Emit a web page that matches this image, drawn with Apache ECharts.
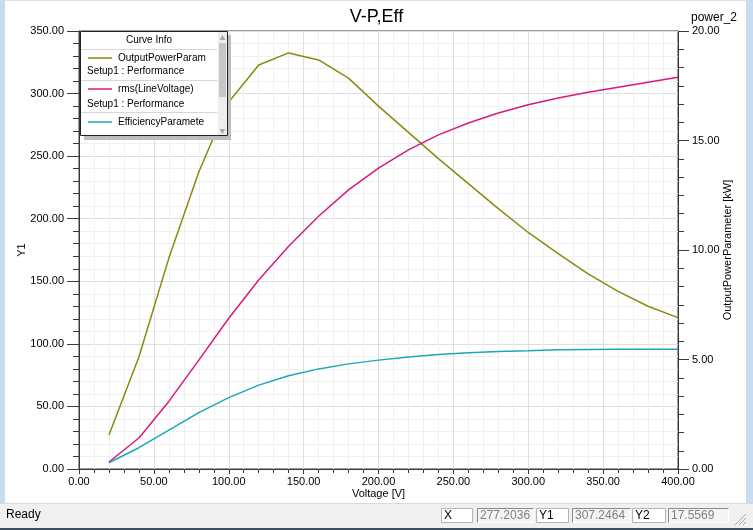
<!DOCTYPE html>
<html>
<head>
<meta charset="utf-8">
<script src="https://cdn.jsdelivr.net/npm/echarts@6/dist/echarts.min.js"></script>
<style>
html,body{margin:0;padding:0;background:#fff;}
#c{width:753px;height:530px;}
</style>
</head>
<body>
<div id="c"></div>
<script>
// ---- data ----
const voltage = [20,40,60,80,100,120,140,160,180,200,220,240,260,280,300,320,340,360,380,400];
// OutputPowerParameter [kW] (right axis)
const outputPower = [1.55,5.11,9.63,13.56,16.76,18.45,19.0,18.68,17.85,16.57,15.37,14.17,13.03,11.89,10.8,9.83,8.91,8.11,7.43,6.91];
// rms(LineVoltage) (left axis)
const rmsLineVoltage = [5.6,24.8,54,87,120.5,151,178,202,223,240.5,255,267,276.5,284.5,291,296.5,301,305,309,313];
// EfficiencyParameter (left axis)
const efficiency = [5,17,31,45,57,67,74.5,80,84,87,89.5,91.5,92.8,93.8,94.5,95.3,95.5,95.6,95.6,95.6];

const xTicks = {min:0, max:400, interval:50};
const y1Ticks = {min:0, max:350, interval:50};
const y2Ticks = {min:0, max:20, interval:5};

const seriesNames = ['OutputPowerParam','rms(LineVoltage)','EfficiencyParamete'];
const colors = ['#8a8a0c','#d61a7f','#19a9b6'];
const statusFields = [['X','277.2036'],['Y1','307.2464'],['Y2','17.5569']];

const pairs = (ys) => voltage.map((v,i)=>[v, ys[i]]);
const FONT = "'Liberation Sans', Arial, sans-serif";
const fmt = v => v.toFixed(2);
const axisCol = '#3a3a3a';

const chart = echarts.init(document.getElementById('c'), null, {renderer:'canvas'});

// legend / status graphics
const G = [];
// window frame
G.push({type:'rect', shape:{x:0,y:0,width:5,height:503}, style:{fill:'#c9dbee'}, z:100});
G.push({type:'rect', shape:{x:746,y:0,width:7,height:503}, style:{fill:'#c9dbee'}, z:100});
G.push({type:'line', shape:{x1:5,y1:0.5,x2:746,y2:0.5}, style:{stroke:'#d6e2ef',lineWidth:1}, z:100});
// status bar
G.push({type:'rect', shape:{x:0,y:503,width:753,height:25}, style:{fill:'#f0f0f0'}, z:100});
G.push({type:'line', shape:{x1:0,y1:503.5,x2:753,y2:503.5}, style:{stroke:'#d9d9d9',lineWidth:1}, z:101});
G.push({type:'rect', shape:{x:0,y:528,width:753,height:2}, style:{fill:'#3e4d60'}, z:101});
G.push({type:'text', style:{text:'Ready', x:6, y:515, fill:'#000', font:"12px "+FONT, verticalAlign:'middle'}, z:102});
const boxes = [[441,472,477,533],[536,568,572,630],[632,665,668,728]];
statusFields.forEach((f,i)=>{
  const b = boxes[i];
  G.push({type:'rect', shape:{x:b[0]+0.5,y:508.5,width:b[1]-b[0],height:14}, style:{fill:'#ffffff',stroke:'#b4b4b4',lineWidth:1}, z:101});
  G.push({type:'text', style:{text:f[0], x:b[0]+3, y:516, fill:'#000', font:"12px "+FONT, verticalAlign:'middle'}, z:102});
  G.push({type:'rect', shape:{x:b[2]+0.5,y:508.5,width:b[3]-b[2],height:14}, style:{fill:'#f4f4f4',stroke:'#ffffff',lineWidth:1}, z:101});
  G.push({type:'polyline', shape:{points:[[b[2]+0.5,522.5],[b[2]+0.5,508.5],[b[3]+0.5,508.5]]}, style:{stroke:'#8a8a8a',lineWidth:1,fill:null}, z:102});
  G.push({type:'text', style:{text:f[1], x:b[2]+3, y:516, fill:'#808080', font:"12px "+FONT, verticalAlign:'middle'}, z:102});
});
// size grip
[[746,514,735,525],[746,518,739,525],[746,522,743,525]].forEach(p=>{
  G.push({type:'line', shape:{x1:p[0],y1:p[1],x2:p[2],y2:p[3]}, style:{stroke:'#a8a8a8',lineWidth:1}, z:102});
});
// "power_2"
G.push({type:'text', style:{text:'power_2', x:737, y:18, fill:'#000', font:"12px "+FONT, align:'right', verticalAlign:'middle'}, z:102});

// Curve info legend box
G.push({type:'rect', shape:{x:84,y:35,width:147,height:105}, style:{fill:'#bdbdbd'}, z:110});
G.push({type:'rect', shape:{x:80.5,y:31.5,width:147,height:104}, style:{fill:'#ffffff',stroke:'#222',lineWidth:1}, z:111});
G.push({type:'rect', shape:{x:218,y:32,width:9,height:103}, style:{fill:'#ededed'}, z:112});
G.push({type:'rect', shape:{x:219,y:43,width:7,height:54}, style:{fill:'#c6c6c6'}, z:113});
G.push({type:'polygon', shape:{points:[[219.5,40],[222.5,35],[225.5,40]]}, style:{fill:'#a8a8a8'}, z:113});
G.push({type:'polygon', shape:{points:[[219.5,129],[222.5,134],[225.5,129]]}, style:{fill:'#a8a8a8'}, z:113});
G.push({type:'text', style:{text:'Curve Info', x:149, y:40, fill:'#000', font:"10px "+FONT, align:'center', verticalAlign:'middle'}, z:113});
[49.5,80.5,112.5].forEach(y=>{
  G.push({type:'line', shape:{x1:81,y1:y,x2:217,y2:y}, style:{stroke:'#d6d6d6',lineWidth:1}, z:113});
});
const entryY = [58,89,122];
seriesNames.forEach((n,i)=>{
  G.push({type:'line', shape:{x1:88,y1:entryY[i],x2:112,y2:entryY[i]}, style:{stroke:colors[i],lineWidth:1.5}, z:113});
  G.push({type:'text', style:{text:n, x:118, y:entryY[i], fill:'#000', font:"10px "+FONT, verticalAlign:'middle'}, z:113});
});
[71,104].forEach(y=>{
  G.push({type:'text', style:{text:'Setup1 : Performance', x:87, y:y, fill:'#000', font:"10px "+FONT, verticalAlign:'middle'}, z:113});
});

const option = {
  animation:false,
  backgroundColor:'#ffffff',
  title:{text:'V-P,Eff', left:'center', top:3, textStyle:{fontFamily:FONT, fontSize:18, fontWeight:'normal', color:'#000'}},
  grid:{left:79, right:75, top:31, bottom:61, show:true, borderColor:axisCol, borderWidth:1, outerBoundsMode:'none'},
  xAxis:{
    type:'value', min:xTicks.min, max:xTicks.max, interval:xTicks.interval,
    name:'Voltage [V]', nameLocation:'middle', nameGap:19, nameMoveOverlap:false,
    nameTextStyle:{fontFamily:FONT, fontSize:11, color:'#000'},
    axisLine:{show:true, onZero:false, lineStyle:{color:axisCol}},
    axisTick:{show:true, length:5, lineStyle:{color:axisCol}},
    minorTick:{show:true, splitNumber:5, length:4, lineStyle:{color:axisCol}},
    axisLabel:{formatter:fmt, margin:7, fontFamily:FONT, fontSize:11, color:'#000', showMinLabel:true, showMaxLabel:true, hideOverlap:false},
    splitLine:{show:true, lineStyle:{color:'#dedede'}},
    minorSplitLine:{show:true, lineStyle:{color:'#f0f0f0'}}
  },
  yAxis:[{
    type:'value', min:y1Ticks.min, max:y1Ticks.max, interval:y1Ticks.interval, position:'left',
    name:'Y1', nameLocation:'middle', nameGap:52, nameMoveOverlap:false,
    nameTextStyle:{fontFamily:FONT, fontSize:11, color:'#000'},
    axisLine:{show:true, lineStyle:{color:axisCol}},
    axisTick:{show:true, length:12, lineStyle:{color:axisCol}},
    minorTick:{show:true, splitNumber:5, length:6, lineStyle:{color:axisCol}},
    axisLabel:{formatter:fmt, margin:15, fontFamily:FONT, fontSize:11, color:'#000', showMinLabel:true, showMaxLabel:true, hideOverlap:false},
    splitLine:{show:true, lineStyle:{color:'#dedede'}},
    minorSplitLine:{show:true, lineStyle:{color:'#f0f0f0'}}
  },{
    type:'value', min:y2Ticks.min, max:y2Ticks.max, interval:y2Ticks.interval, position:'right',
    name:'OutputPowerParameter [kW]', nameLocation:'middle', nameGap:44, nameMoveOverlap:false,
    nameTextStyle:{fontFamily:FONT, fontSize:11, color:'#000'},
    axisLine:{show:true, lineStyle:{color:axisCol}},
    axisTick:{show:true, length:11, lineStyle:{color:axisCol}},
    minorTick:{show:true, splitNumber:6, length:6, lineStyle:{color:axisCol}},
    axisLabel:{formatter:fmt, margin:14, fontFamily:FONT, fontSize:11, color:'#000', showMinLabel:true, showMaxLabel:true, hideOverlap:false},
    splitLine:{show:false}
  }],
  series:[
    {name:seriesNames[0], type:'line', yAxisIndex:1, data:pairs(outputPower), showSymbol:false, symbol:'none', lineStyle:{color:colors[0], width:1.5}, itemStyle:{color:colors[0]}, z:3},
    {name:seriesNames[1], type:'line', yAxisIndex:0, data:pairs(rmsLineVoltage), showSymbol:false, symbol:'none', lineStyle:{color:colors[1], width:1.5}, itemStyle:{color:colors[1]}, z:3},
    {name:seriesNames[2], type:'line', yAxisIndex:0, data:pairs(efficiency), showSymbol:false, symbol:'none', lineStyle:{color:colors[2], width:1.5}, itemStyle:{color:colors[2]}, z:3}
  ],
  graphic:{elements:G}
};
chart.setOption(option);
</script>
</body>
</html>
